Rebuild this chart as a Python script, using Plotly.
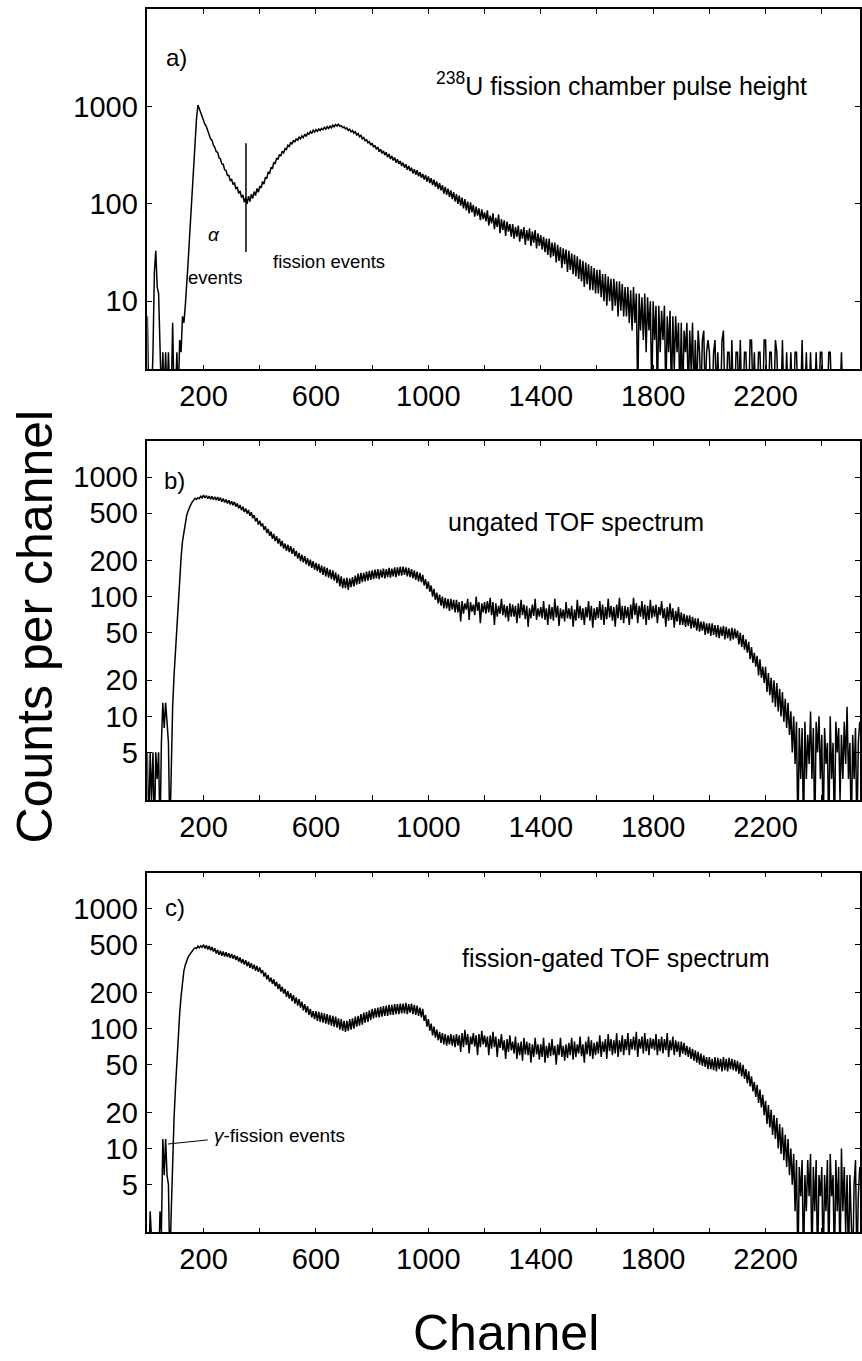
import math
import plotly.graph_objects as go

# ---------------- data (counts per channel, read every 5 channels) ----------------
channels = list(range(0, 2540, 5))

pulse_height = [
    7, 1, 2, 1, 3, 20, 33, 14, 12, 3, 1, 3, 1, 3, 1, 3, 1, 1, 6, 1,
    1, 3, 1, 4, 3, 7, 6, 9, 14, 25, 45, 80, 150, 270, 480, 760, 1040, 940, 880, 780,
    728, 655, 622, 552, 515, 466, 452, 402, 382, 345, 340, 298, 290, 258, 256, 224, 220, 196, 197, 174,
    178, 158, 166, 142, 150, 128, 136, 116, 124, 104, 116, 100, 120, 106, 126, 114, 134, 122, 144, 132,
    152, 146, 170, 160, 188, 182, 214, 204, 238, 230, 268, 258, 296, 286, 322, 310, 348, 336, 372, 362,
    400, 390, 430, 410, 452, 432, 470, 448, 486, 466, 500, 480, 520, 494, 536, 520, 556, 530, 572, 548,
    580, 556, 590, 568, 598, 580, 612, 586, 622, 596, 632, 606, 646, 620, 656, 632, 660, 628, 638, 606,
    620, 590, 604, 568, 586, 552, 568, 534, 552, 512, 528, 490, 506, 466, 482, 446, 458, 424, 436, 402,
    420, 382, 400, 364, 384, 344, 366, 330, 352, 318, 340, 302, 326, 290, 312, 280, 300, 266, 288, 258,
    276, 246, 266, 236, 256, 224, 246, 218, 236, 206, 228, 200, 222, 192, 212, 186, 204, 178, 198, 170,
    192, 164, 184, 156, 178, 150, 170, 142, 164, 138, 156, 128, 150, 124, 144, 118, 138, 112, 132, 106,
    126, 100, 122, 96, 116, 90, 112, 86, 106, 80, 104, 82, 98, 74, 94, 76, 90, 68, 88, 70,
    82, 66, 86, 60, 76, 63, 80, 55, 72, 58, 78, 50, 70, 54, 68, 47, 66, 52, 62, 46,
    62, 44, 58, 46, 60, 41, 55, 44, 58, 38, 54, 42, 56, 37, 52, 40, 54, 35, 50, 37,
    48, 34, 46, 32, 44, 30, 44, 28, 40, 29, 40, 25, 38, 26, 36, 22, 35, 24, 34, 20,
    33, 21, 31, 19, 30, 18, 29, 17, 27, 16, 26, 14, 25, 15, 24, 13, 23, 13, 22, 12,
    21, 12, 21, 11, 19, 10, 19, 9, 18, 10, 17, 8, 17, 9, 16, 7, 16, 8, 15, 7,
    14, 7, 14, 6, 13, 5, 14, 6, 12, 1, 12, 5, 11, 4, 12, 3, 11, 5, 10, 1,
    10, 4, 9, 1, 9, 3, 8, 4, 9, 1, 7, 3, 8, 1, 7, 2, 7, 3, 6, 1,
    6, 1, 5, 3, 6, 1, 5, 2, 6, 1, 4, 1, 5, 3, 1, 4, 5, 1, 3, 4,
    3, 1, 1, 3, 4, 1, 3, 1, 1, 4, 5, 1, 1, 3, 3, 1, 4, 1, 1, 3,
    3, 1, 4, 1, 1, 3, 3, 1, 1, 4, 4, 1, 3, 1, 1, 3, 3, 1, 1, 4,
    4, 1, 1, 3, 3, 1, 1, 4, 3, 1, 1, 1, 4, 1, 1, 3, 1, 1, 3, 1,
    1, 3, 3, 1, 1, 1, 4, 1, 1, 3, 1, 1, 3, 1, 1, 1, 3, 1, 1, 3,
    3, 1, 1, 1, 1, 3, 3, 1, 1, 1, 1, 1, 1, 1, 3, 1, 1, 1, 1, 1,
    1, 1, 1, 1, 1, 1, 1, 1,
]

tof_ungated = [
    5, 1, 5, 2, 5, 1, 5, 3, 5, 1, 6, 13, 8, 13, 9, 6, 1, 5, 12, 22,
    36, 60, 98, 150, 211, 290, 352, 420, 479, 520, 560, 590, 620, 640, 665, 650, 672, 660, 690, 670,
    705, 668, 700, 660, 692, 652, 690, 646, 684, 640, 680, 634, 672, 622, 660, 612, 648, 602, 640, 590,
    628, 580, 620, 566, 602, 548, 584, 528, 566, 510, 546, 494, 530, 474, 508, 452, 480, 426, 454, 400,
    432, 388, 410, 362, 388, 340, 368, 322, 350, 304, 334, 292, 320, 278, 306, 264, 292, 252, 278, 242,
    272, 236, 264, 228, 254, 218, 242, 208, 232, 198, 224, 194, 218, 186, 210, 180, 204, 174, 198, 168,
    192, 164, 188, 158, 182, 152, 178, 148, 174, 144, 168, 140, 166, 136, 160, 130, 154, 122, 148, 118,
    142, 118, 144, 114, 142, 120, 146, 122, 150, 126, 156, 128, 158, 132, 158, 134, 162, 136, 164, 138,
    166, 140, 168, 142, 170, 140, 168, 144, 172, 142, 170, 146, 174, 144, 172, 148, 176, 146, 176, 150,
    178, 150, 178, 152, 176, 148, 174, 146, 170, 142, 166, 138, 162, 134, 158, 132, 152, 124, 140, 116,
    134, 110, 124, 100, 116, 94, 108, 88, 104, 84, 100, 80, 98, 80, 96, 76, 96, 78, 94, 74,
    94, 74, 90, 62, 92, 72, 88, 78, 96, 64, 90, 75, 86, 70, 100, 76, 90, 60, 88, 74,
    90, 72, 92, 74, 98, 70, 90, 58, 88, 68, 84, 72, 96, 70, 86, 67, 84, 62, 88, 68,
    86, 68, 84, 60, 88, 66, 94, 70, 86, 65, 84, 56, 80, 66, 86, 69, 96, 64, 80, 68,
    82, 66, 92, 64, 80, 58, 86, 65, 82, 63, 96, 67, 84, 57, 80, 66, 78, 62, 90, 66,
    80, 65, 84, 56, 78, 63, 94, 66, 84, 64, 80, 58, 82, 67, 92, 63, 84, 55, 80, 64,
    82, 66, 92, 64, 86, 58, 82, 65, 96, 67, 84, 63, 82, 56, 86, 66, 98, 64, 84, 60,
    84, 66, 82, 58, 86, 65, 98, 70, 88, 60, 84, 68, 92, 65, 86, 58, 84, 64, 94, 66,
    84, 68, 86, 60, 82, 70, 92, 66, 80, 56, 82, 63, 88, 64, 80, 55, 76, 62, 82, 58,
    74, 58, 72, 56, 70, 57, 70, 54, 68, 55, 66, 52, 66, 51, 62, 52, 62, 48, 60, 49,
    60, 47, 60, 48, 58, 46, 58, 45, 56, 47, 57, 44, 56, 45, 54, 43, 55, 44, 54, 45,
    52, 40, 50, 38, 48, 36, 44, 34, 42, 30, 38, 28, 34, 26, 32, 22, 30, 21, 26, 19,
    26, 16, 23, 15, 21, 13, 20, 12, 19, 11, 17, 10, 16, 9, 14, 8, 13, 7, 11, 5,
    10, 4, 9, 1, 8, 3, 8, 1, 9, 3, 7, 4, 11, 3, 8, 1, 9, 5, 10, 3,
    7, 1, 8, 4, 6, 1, 10, 3, 6, 1, 9, 5, 8, 2, 7, 3, 9, 4, 12, 3,
    6, 1, 7, 3, 8, 1, 6, 9,
]

tof_gated = [
    1, 1, 3, 1, 1, 1, 1, 1, 1, 3, 2, 12, 6, 12, 6, 5, 1, 3, 8, 18,
    32, 55, 87, 134, 186, 255, 304, 340, 368, 395, 412, 432, 452, 462, 472, 466, 488, 472, 490, 478,
    502, 466, 496, 458, 490, 450, 480, 440, 468, 424, 454, 414, 446, 406, 440, 400, 434, 396, 426, 388,
    420, 384, 412, 374, 402, 362, 392, 352, 380, 342, 372, 332, 362, 322, 352, 314, 342, 304, 334, 298,
    324, 290, 308, 272, 294, 258, 280, 246, 266, 236, 258, 226, 246, 214, 236, 204, 224, 196, 214, 184,
    206, 178, 198, 170, 190, 162, 182, 156, 176, 150, 168, 142, 160, 136, 154, 130, 146, 124, 140, 120,
    140, 116, 138, 114, 136, 112, 134, 110, 132, 108, 130, 106, 128, 104, 126, 102, 122, 98, 120, 96,
    116, 94, 116, 96, 120, 98, 122, 100, 126, 104, 128, 106, 132, 108, 136, 112, 138, 114, 142, 118,
    146, 122, 148, 124, 150, 124, 152, 126, 154, 128, 156, 128, 158, 130, 158, 130, 160, 132, 160, 132,
    162, 134, 162, 134, 164, 132, 160, 136, 162, 132, 158, 130, 156, 128, 150, 124, 146, 116, 130, 104,
    120, 96, 110, 88, 104, 84, 98, 80, 94, 76, 92, 74, 90, 72, 88, 74, 90, 72, 88, 70,
    90, 72, 88, 64, 92, 70, 98, 73, 90, 62, 86, 74, 92, 71, 88, 60, 90, 70, 96, 74,
    88, 70, 86, 60, 88, 68, 94, 70, 86, 58, 82, 69, 90, 66, 80, 56, 82, 64, 88, 66,
    78, 62, 86, 56, 76, 60, 78, 54, 84, 61, 78, 60, 76, 52, 74, 58, 84, 61, 74, 55,
    74, 58, 84, 52, 72, 57, 76, 59, 82, 60, 72, 50, 74, 60, 84, 58, 72, 54, 74, 57,
    76, 60, 84, 55, 78, 58, 74, 62, 86, 59, 74, 52, 78, 61, 86, 59, 80, 56, 76, 60,
    78, 62, 88, 58, 78, 64, 82, 56, 90, 65, 82, 60, 80, 62, 92, 58, 80, 64, 88, 60,
    82, 66, 92, 60, 82, 67, 86, 66, 94, 58, 82, 68, 86, 62, 92, 65, 82, 60, 84, 68,
    82, 66, 90, 60, 82, 65, 86, 62, 82, 66, 92, 58, 80, 66, 86, 60, 80, 64, 78, 58,
    78, 62, 76, 60, 72, 58, 70, 56, 68, 54, 66, 52, 64, 50, 62, 49, 60, 48, 58, 46,
    58, 46, 56, 45, 58, 44, 57, 46, 56, 44, 58, 45, 56, 44, 57, 46, 56, 45, 55, 44,
    54, 42, 52, 40, 50, 38, 46, 35, 44, 33, 40, 30, 36, 27, 34, 24, 31, 22, 28, 19,
    25, 16, 23, 15, 21, 13, 19, 12, 18, 10, 16, 9, 15, 8, 13, 7, 12, 6, 10, 5,
    9, 3, 8, 1, 7, 4, 8, 1, 6, 3, 8, 4, 9, 1, 7, 3, 8, 1, 6, 4,
    7, 1, 6, 3, 8, 1, 9, 4, 6, 1, 8, 3, 7, 1, 10, 3, 7, 2, 6, 1,
    6, 3, 1, 5, 8, 1, 4, 7,
]

x_major_ticks = [200, 600, 1000, 1400, 1800, 2200]
x_minor_ticks = [400, 800, 1200, 1600, 2000, 2400]
y_ticks_a = [10, 100, 1000]
y_ticks_bc = [5, 10, 20, 50, 100, 200, 500, 1000]

# alpha / fission cut marker and gamma-fission pointer (data coordinates)
cut_channel = [351, 351]
cut_counts = [32, 420]
pointer_channels = [73, 215]
pointer_counts = [10.9, 11.8]

# ---------------- layout geometry ----------------
W, H = 862, 1361
FONT = "Liberation Sans, Arial, sans-serif"
x_left = 147.7 / W
panels = {  # (top px, bottom px)
    "a": (9.3, 369.3),
    "b": (441.0, 800.0),
    "c": (872.7, 1232.3),
}


def dom(top, bottom):
    return [1 - bottom / H, 1 - top / H]


fig = go.Figure()
line_style = dict(color="black", width=1.5)

fig.add_trace(go.Scatter(x=channels, y=pulse_height, mode="lines", line=line_style,
                         xaxis="x", yaxis="y", showlegend=False))
fig.add_trace(go.Scatter(x=channels, y=tof_ungated, mode="lines", line=line_style,
                         xaxis="x2", yaxis="y2", showlegend=False))
fig.add_trace(go.Scatter(x=channels, y=tof_gated, mode="lines", line=line_style,
                         xaxis="x3", yaxis="y3", showlegend=False))
fig.add_trace(go.Scatter(x=cut_channel, y=cut_counts, mode="lines",
                         line=dict(color="black", width=1.5),
                         xaxis="x", yaxis="y", showlegend=False))
fig.add_trace(go.Scatter(x=pointer_channels, y=pointer_counts, mode="lines",
                         line=dict(color="black", width=1),
                         xaxis="x3", yaxis="y3", showlegend=False))

tickfont = dict(family=FONT, size=29, color="black")


def xaxis(anchor):
    return dict(range=[0, 2536], domain=[x_left, 1.0], anchor=anchor,
                tickmode="array", tickvals=x_major_ticks,
                ticktext=[str(t) for t in x_major_ticks],
                ticks="inside", ticklen=5, tickwidth=1, tickcolor="black",
                minor=dict(tickmode="array", tickvals=x_minor_ticks, ticks="inside",
                           ticklen=5, tickwidth=1, tickcolor="black", showgrid=False),
                showline=True, linecolor="black", linewidth=1.5, mirror="ticks",
                showgrid=False, zeroline=False, tickfont=tickfont)


def yaxis(anchor, top, bottom, rng, ticks):
    return dict(type="log", range=rng, domain=dom(top, bottom), anchor=anchor,
                tickmode="array", tickvals=ticks, ticktext=[str(t) for t in ticks],
                ticks="inside", ticklen=5, tickwidth=1, tickcolor="black",
                showline=True, linecolor="black", linewidth=1.5, mirror="ticks",
                showgrid=False, zeroline=False, tickfont=tickfont,
                ticklabelstandoff=2)


fig.update_layout(
    width=W, height=H,
    margin=dict(l=0, r=0, t=0, b=0),
    paper_bgcolor="white", plot_bgcolor="white",
    font=dict(family=FONT, color="black"),
    xaxis=xaxis("y"),
    xaxis2=xaxis("y2"),
    xaxis3=xaxis("y3"),
    yaxis=yaxis("x", *panels["a"], [math.log10(2), 4], y_ticks_a),
    yaxis2=yaxis("x2", *panels["b"], [math.log10(2), math.log10(2000)], y_ticks_bc),
    yaxis3=yaxis("x3", *panels["c"], [math.log10(2), math.log10(2000)], y_ticks_bc),
)


def ann(text, x, y, xr, yr, size, xanchor="left", **kw):
    fig.add_annotation(text=text, x=x, y=math.log10(y), xref=xr, yref=yr,
                       showarrow=False, xanchor=xanchor, yanchor="middle",
                       font=dict(family=FONT, size=size, color="black"), **kw)


ann("a)", 61, 3160, "x", "y", 24)
ann("<sup>238</sup>U fission chamber pulse height", 1020, 1700, "x", "y", 25)
ann("<i>α</i>", 236, 48, "x", "y", 19, xanchor="center")
ann("events", 244, 17.4, "x", "y", 18.5, xanchor="center")
ann("fission events", 648, 25.5, "x", "y", 18.5, xanchor="center")

ann("b)", 51, 944, "x2", "y2", 24)
ann("ungated TOF spectrum", 1062, 421, "x2", "y2", 25)

ann("c)", 54, 1018, "x3", "y3", 24)
ann("fission-gated TOF spectrum", 1111, 389, "x3", "y3", 25)
ann("<i>γ</i>-fission events", 231, 12.8, "x3", "y3", 19)

fig.add_annotation(text="Counts per channel", x=35 / W, y=1 - 626.5 / H,
                   xref="paper", yref="paper", showarrow=False, textangle=-90,
                   xanchor="center", yanchor="middle",
                   font=dict(family=FONT, size=50, color="black"))
fig.add_annotation(text="Channel", x=507.5 / W, y=1 - 1333 / H,
                   xref="paper", yref="paper", showarrow=False,
                   xanchor="center", yanchor="middle",
                   font=dict(family=FONT, size=50, color="black"))

fig.write_html("out.html")
